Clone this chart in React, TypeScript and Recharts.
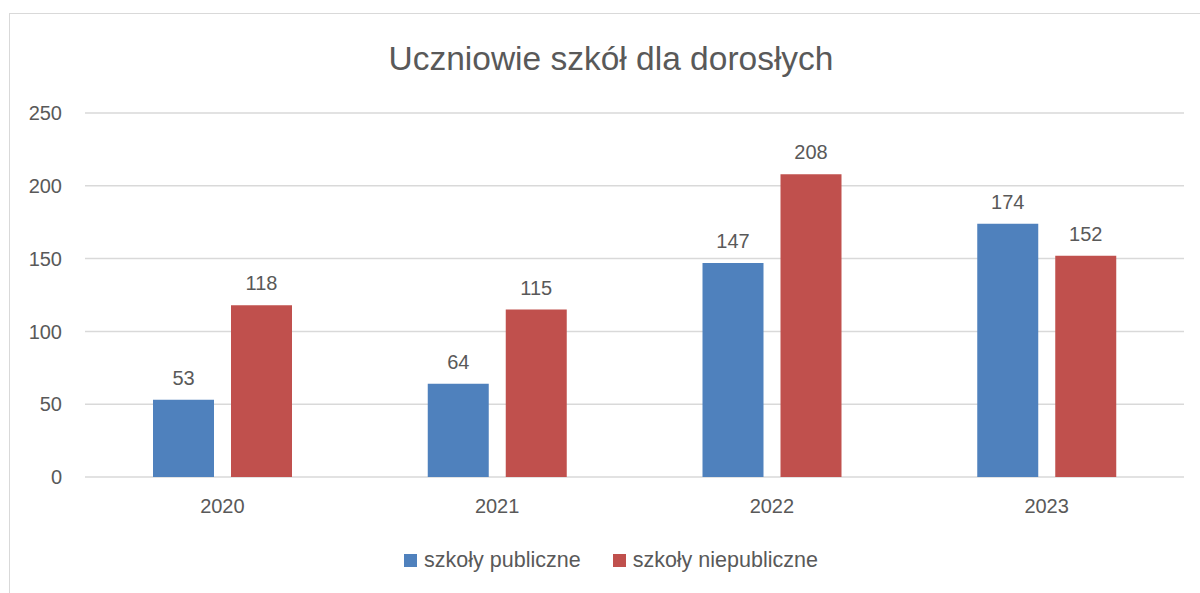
import { BarChart, Bar, XAxis, YAxis, CartesianGrid, LabelList } from "recharts";

// dane
const years = ["2020", "2021", "2022", "2023"];
const publiczne = [53, 64, 147, 174];
const niepubliczne = [118, 115, 208, 152];
const yTicks = [0, 50, 100, 150, 200, 250];

const BLUE = "#4F81BD";
const RED = "#C0504D";
const TEXT = "#595959";
const FONT = "'Liberation Sans', Arial, sans-serif";

const data = years.map((y, i) => ({
  year: y,
  publiczne: publiczne[i],
  niepubliczne: niepubliczne[i],
}));

function LegendItem({ color, label }: { color: string; label: string }) {
  return (
    <span style={{ display: "inline-flex", alignItems: "center", margin: "0 16px" }}>
      <span style={{ width: 13, height: 13, background: color, marginRight: 7, display: "inline-block" }} />
      {label}
    </span>
  );
}

export default function App() {
  return (
    <div
      style={{
        position: "absolute",
        left: 0,
        top: 0,
        width: 1200,
        height: 593,
        background: "#fff",
        fontFamily: FONT,
        overflow: "hidden",
      }}
    >
      {/* ramka wykresu */}
      <div
        style={{
          position: "absolute",
          left: 9,
          top: 13,
          width: 1200,
          height: 600,
          border: "1px solid #d9d9d9",
        }}
      />
      <div
        style={{
          position: "absolute",
          top: 40,
          left: 0,
          width: 1222,
          textAlign: "center",
          fontSize: 33.5,
          color: TEXT,
        }}
      >
        Uczniowie szkół dla dorosłych
      </div>
      <div style={{ position: "absolute", left: 0, top: 0 }}>
        <BarChart
          width={1200}
          height={593}
          data={data}
          margin={{ top: 113, right: 16, left: 25, bottom: 66 }}
          barSize={61}
          barGap={17}
        >
          <CartesianGrid vertical={false} stroke="#d9d9d9" strokeWidth={1.5} />
          <XAxis
            dataKey="year"
            height={50}
            axisLine={false}
            tickLine={false}
            tickSize={0}
            tickMargin={22}
            tick={{ fill: TEXT, fontSize: 20, fontFamily: FONT }}
          />
          <YAxis
            width={60}
            domain={[0, 250]}
            ticks={yTicks}
            axisLine={false}
            tickLine={false}
            tickSize={0}
            tickMargin={23}
            tick={{ fill: TEXT, fontSize: 20, fontFamily: FONT }}
          />
          <Bar dataKey="publiczne" fill={BLUE} isAnimationActive={false}>
            <LabelList dataKey="publiczne" position="top" offset={15} fill={TEXT} fontSize={20} fontFamily={FONT} />
          </Bar>
          <Bar dataKey="niepubliczne" fill={RED} isAnimationActive={false}>
            <LabelList dataKey="niepubliczne" position="top" offset={15} fill={TEXT} fontSize={20} fontFamily={FONT} />
          </Bar>
        </BarChart>
      </div>
      <div
        style={{
          position: "absolute",
          top: 548,
          left: 0,
          width: 1222,
          textAlign: "center",
          fontSize: 21.5,
          color: TEXT,
        }}
      >
        <LegendItem color={BLUE} label="szkoły publiczne" />
        <LegendItem color={RED} label="szkoły niepubliczne" />
      </div>
    </div>
  );
}
